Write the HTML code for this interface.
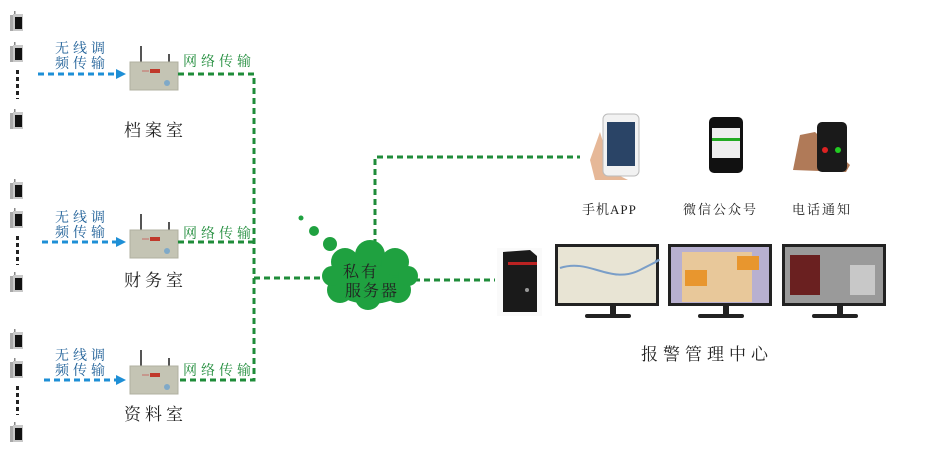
<!DOCTYPE html>
<html><head><meta charset="utf-8"><style>
html,body{margin:0;padding:0;background:#fff}
svg{display:block}
text{font-family:"Liberation Serif","Noto Serif CJK SC","Noto Sans CJK SC",serif}
</style></head><body>
<svg width="932" height="460" viewBox="0 0 932 460" xmlns="http://www.w3.org/2000/svg">
<defs>
<g id="radio"><rect x="0" y="4" width="3" height="16" fill="#aaa"/><rect x="4" y="0" width="1.5" height="6" fill="#888"/><rect x="3" y="3" width="10" height="17" fill="#c8c8c8"/><rect x="5" y="6" width="7" height="12" fill="#111"/></g>
<g id="dots"><rect x="0" y="0" width="3" height="4" fill="#222"/><rect x="0" y="7" width="3" height="4" fill="#222"/><rect x="0" y="14" width="3" height="4" fill="#222"/><rect x="0" y="21" width="3" height="4" fill="#222"/><rect x="0" y="28" width="3" height="1" fill="#222"/></g>
<g id="dev"><rect x="10" y="-16" width="2" height="16" fill="#555"/><rect x="38" y="-8" width="2" height="8" fill="#555"/><rect x="0" y="0" width="48" height="28" fill="#c4c4b4" stroke="#b0b0a0"/><rect x="20" y="7" width="10" height="4" fill="#c0392b"/><line x1="12" y1="9" x2="19" y2="9" stroke="#c33" stroke-width="0.6"/><circle cx="37" cy="21" r="3" fill="#7fa9c8"/></g>
<g id="mon"><rect x="0" y="0" width="104" height="62" fill="#222"/><rect x="55" y="62" width="6" height="9" fill="#222"/><rect x="30" y="70" width="46" height="4" rx="2" fill="#222"/></g>
</defs>

<use href="#radio" x="10" y="11"/><use href="#radio" x="10" y="42"/><use href="#dots" x="16" y="70"/><use href="#radio" x="10" y="109"/>
<use href="#radio" x="10" y="179"/><use href="#radio" x="10" y="208"/><use href="#dots" x="16" y="236"/><use href="#radio" x="10" y="272"/>
<use href="#radio" x="10" y="329"/><use href="#radio" x="10" y="358"/><use href="#dots" x="16" y="386"/><use href="#radio" x="10" y="422"/>

<g stroke="#1e8fd6" stroke-width="3" stroke-dasharray="6,4" fill="none">
<line x1="38" y1="74" x2="118" y2="74"/><line x1="42" y1="242" x2="118" y2="242"/><line x1="44" y1="380" x2="118" y2="380"/>
</g>
<g fill="#1e8fd6"><polygon points="116,69 126,74 116,79"/><polygon points="116,237 126,242 116,247"/><polygon points="116,375 126,380 116,385"/></g>

<g fill="#1b5d96" font-size="14">
<text x="55" y="53" letter-spacing="4">无线调</text><text x="55" y="68" letter-spacing="4">频传输</text>
<text x="55" y="222" letter-spacing="4">无线调</text><text x="55" y="237" letter-spacing="4">频传输</text>
<text x="55" y="360" letter-spacing="4">无线调</text><text x="55" y="375" letter-spacing="4">频传输</text>
</g>

<use href="#dev" x="130" y="62"/><use href="#dev" x="130" y="230"/><use href="#dev" x="130" y="366"/>

<g stroke="#1f8c3a" stroke-width="3" stroke-dasharray="6,4" fill="none">
<polyline points="178,74 254,74 254,380 178,380"/>
<line x1="178" y1="242" x2="254" y2="242"/>
<line x1="254" y1="278" x2="326" y2="278"/>
<polyline points="375,245 375,157 580,157"/>
<line x1="414" y1="280" x2="495" y2="280"/>
</g>
<g fill="#1f8c3a" font-size="14">
<text x="183" y="66" letter-spacing="4">网络传输</text><text x="183" y="238" letter-spacing="4">网络传输</text><text x="183" y="375" letter-spacing="4">网络传输</text>
</g>

<g fill="#222" font-size="17">
<text x="124" y="136" letter-spacing="4">档案室</text>
<text x="124" y="286" letter-spacing="4">财务室</text>
<text x="124" y="420" letter-spacing="4">资料室</text>
</g>

<g fill="#1fa140">
<circle cx="301" cy="218" r="2.5"/><circle cx="314" cy="231" r="5"/><circle cx="330" cy="244" r="7"/>
<ellipse cx="370" cy="278" rx="42" ry="26"/>
<circle cx="345" cy="262" r="14"/><circle cx="370" cy="255" r="15"/><circle cx="395" cy="262" r="14"/>
<circle cx="340" cy="290" r="13"/><circle cx="368" cy="297" r="13"/><circle cx="398" cy="290" r="13"/>
<circle cx="332" cy="276" r="10"/><circle cx="408" cy="276" r="10"/>
</g>
<g fill="#222" font-size="16"><text x="343" y="277" letter-spacing="2">私有</text><text x="345" y="296" letter-spacing="2">服务器</text></g>

<rect x="497" y="248" width="45" height="68" fill="#fafafa"/>
<polygon points="503,252 530,250 537,256 537,312 503,312" fill="#1a1a1a"/>
<rect x="508" y="262" width="29" height="3" fill="#b22"/>
<circle cx="527" cy="290" r="2" fill="#999"/>

<use href="#mon" x="555" y="244"/><use href="#mon" x="668" y="244"/><use href="#mon" x="782" y="244"/>
<rect x="558" y="247" width="98" height="56" fill="#e8e4d4"/>
<path d="M560,268 C590,258 610,285 640,270 S655,262 656,260" stroke="#7a9ec8" stroke-width="2" fill="none"/>
<rect x="671" y="247" width="98" height="56" fill="#b8b0d0"/>
<rect x="682" y="252" width="70" height="50" fill="#e8c89a"/>
<rect x="685" y="270" width="22" height="16" fill="#e8962e"/><rect x="737" y="256" width="22" height="14" fill="#e8962e"/>
<rect x="785" y="247" width="98" height="56" fill="#9a9a9a"/>
<rect x="790" y="255" width="30" height="40" fill="#6a2020"/><rect x="850" y="265" width="25" height="30" fill="#c8c8c8"/>

<path d="M590,160 L600,132 L612,172 L628,180 L595,180 Z" fill="#e6b898"/>
<rect x="603" y="114" width="36" height="62" rx="5" fill="#f2f2f2" stroke="#bbb"/>
<rect x="607" y="122" width="28" height="44" fill="#2a4466"/>
<rect x="709" y="117" width="34" height="56" rx="5" fill="#111"/>
<rect x="712" y="128" width="28" height="30" fill="#eee"/><rect x="712" y="138" width="28" height="3" fill="#2a2"/>
<path d="M793,170 L800,135 L815,132 L850,165 L846,172 Z" fill="#b07a58"/>
<rect x="817" y="122" width="30" height="50" rx="5" fill="#1a1a1a"/>
<circle cx="825" cy="150" r="3" fill="#d22"/><circle cx="838" cy="150" r="3" fill="#2c2"/>

<g fill="#222" font-size="13">
<text x="582" y="214" letter-spacing="1">手机APP</text>
<text x="683" y="214" letter-spacing="2">微信公众号</text>
<text x="792" y="214" letter-spacing="2">电话通知</text>
</g>
<text x="641" y="360" fill="#222" font-size="17" letter-spacing="5">报警管理中心</text>
</svg>
</body></html>
